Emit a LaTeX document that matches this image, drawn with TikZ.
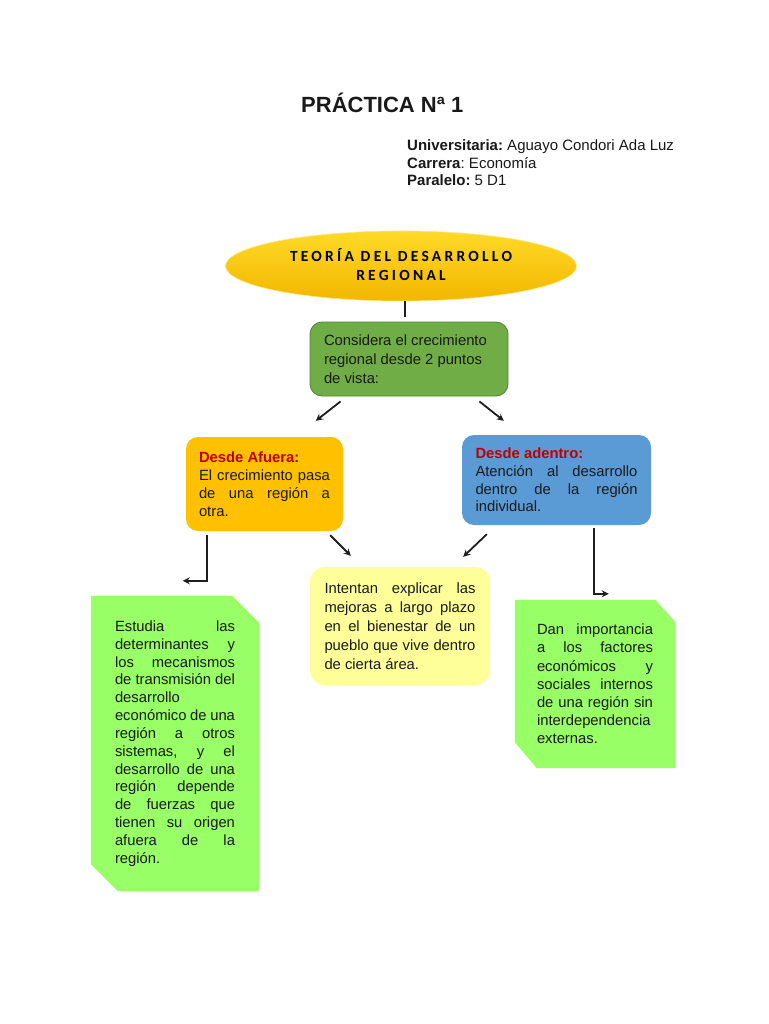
\documentclass[tikz,border=0pt]{standalone}
\usepackage{fontspec}
\setmainfont{Liberation Sans}
\newfontfamily\ellfont[LetterSpace=21]{Carlito}
\usetikzlibrary{calc,arrows.meta,shapes.geometric}
\definecolor{txtc}{RGB}{25,25,25}
\definecolor{redc}{RGB}{192,0,0}
\definecolor{orangec}{RGB}{255,192,0}
\definecolor{bluec}{RGB}{91,155,213}
\definecolor{yellowc}{RGB}{255,255,153}
\definecolor{greenc}{RGB}{112,173,71}
\definecolor{greenb}{RGB}{84,130,53}
\definecolor{greenl}{RGB}{153,255,102}
\definecolor{goldt}{RGB}{255,218,40}
\definecolor{goldb}{RGB}{242,182,0}
\definecolor{linec}{RGB}{30,30,30}
\def\bw{100pt}
\newcommand\jl[1]{\makebox[\bw][s]{\spaceskip=0pt\xspaceskip=0pt #1}}
\pgfdeclarelayer{background}
\pgfsetlayers{background,main}
\tikzset{
  body/.style={font=\fontsize{14.8}{#1}\selectfont, text=txtc, align=flush left, inner ysep=0pt},
  jw/.code={\def\bw{#1}},
  rbox/.style={rounded corners=12pt},
  arr/.style={draw=linec, line width=1.8pt, -{Stealth[length=7pt,width=7pt]}},
  plain/.style={draw=linec, line width=1.8pt},
  hdr/.style={anchor=base west, inner sep=0pt, font=\fontsize{15}{18}\selectfont, text=txtc},
}
\begin{document}
\frenchspacing
\begin{tikzpicture}[x=1pt,y=-1pt]
\useasboundingbox (0,0) rectangle (768,1024);
\begin{pgfonlayer}{background}
\fill[white] (0,0) rectangle (768,1024);
\end{pgfonlayer}

% title and header
\node[anchor=base west, inner sep=0pt, font=\bfseries\fontsize{22}{26}\selectfont, text=txtc] (title) at (301,113) {PRÁCTICA Nª 1};
\node[hdr] (univ) at (407,151) {\textbf{Universitaria:} Aguayo Condori Ada Luz};
\node[hdr] (carr) at (407,168.5) {\textbf{Carrera}: Economía};
\node[hdr] (para) at (407,186) {\textbf{Paralelo:} 5 D1};

% ellipse
\node[ellipse, minimum width=351pt, minimum height=70pt, inner sep=0pt, top color=goldt, bottom color=goldb, draw=goldt!60!white, line width=0.6pt, align=center, font=\ellfont\bfseries\fontsize{15.5}{19}\selectfont, text=black] (ell) at (401,266) {\raisebox{3pt}{TEORÍA DEL DESARROLLO}\\\raisebox{3pt}{REGIONAL}};

% green box
\node[rbox, body=19, fill=greenc, draw=greenb, line width=0.8pt, text width=170pt, inner xsep=14pt, minimum height=74pt] (gbox) at (409,359)
  {Considera el crecimiento\\regional desde 2 puntos\\de vista:};

% orange box
\node[rbox, body=18, jw=131pt, fill=orangec, text width=131pt, inner xsep=13pt, minimum height=94pt] (obox) at (264.5,484)
  {{\color{redc}\bfseries Desde Afuera:}\\
   \jl{El crecimiento pasa}\\
   \jl{de una región a}\\
   otra.};

% blue box
\node[rbox, body=17.7, jw=162pt, fill=bluec, text width=162pt, inner xsep=13.5pt, minimum height=90pt] (bbox) at (556.5,480)
  {{\color{redc}\bfseries Desde adentro:}\\
   \jl{Atención al desarrollo}\\
   \jl{dentro de la región}\\
   individual.};

% yellow box
\node[rounded corners=15pt, body=19, jw=151pt, fill=yellowc, text width=151pt, inner xsep=14.5pt, minimum height=118pt] (ybox) at (400,626)
  {\jl{Intentan explicar las}\\
   \jl{mejoras a largo plazo}\\
   \jl{en el bienestar de un}\\
   \jl{pueblo que vive dentro}\\
   de cierta área.};

% left green snipped box
\node[body=17.85, jw=120pt, text width=120pt, inner xsep=24pt, minimum height=295pt] (lg) at (175,743.5)
  {\jl{Estudia las}\\
   \jl{determinantes y}\\
   \jl{los mecanismos}\\
   \jl{de transmisión del}\\
   desarrollo\\
   \jl{económico de una}\\
   \jl{región a otros}\\
   \jl{sistemas, y el}\\
   \jl{desarrollo de una}\\
   \jl{región depende}\\
   \jl{de fuerzas que}\\
   \jl{tienen su origen}\\
   \jl{afuera de la}\\
   región.};

% right green snipped box
\node[body=18.2, jw=116pt, text width=116pt, inner xsep=22pt, minimum height=168pt] (rg) at (595,684)
  {\jl{Dan importancia}\\
   \jl{a los factores}\\
   \jl{económicos y}\\
   \jl{sociales internos}\\
   \jl{de una región sin}\\
   interdependencia\\
   externas.};

\begin{pgfonlayer}{background}
\fill[greenl] (lg.north west) -- ($(lg.north east)+(-27,0)$) -- ($(lg.north east)+(0,27)$)
  -- (lg.south east) -- ($(lg.south west)+(27,0)$) -- ($(lg.south west)+(0,-27)$) -- cycle;
\fill[greenl] (rg.north west) -- ($(rg.north east)+(-20,0)$) -- ($(rg.north east)+(0,22)$)
  -- (rg.south east) -- ($(rg.south west)+(22,0)$) -- ($(rg.south west)+(0,-26)$) -- cycle;
\end{pgfonlayer}

% connectors
\draw[plain] ($(ell.south)+(4,0)$) -- ($(gbox.north)+(-4,-5)$);
\draw[arr] ($(gbox.south west)+(31,5)$) -- ($(obox.north west)+(130,-16)$);
\draw[arr] ($(gbox.south east)+(-29,5)$) -- ($(bbox.north west)+(42,-14)$);
\draw[arr] ($(obox.south east)+(-13,4)$) -- ($(ybox.north west)+(41,-11)$);
\draw[arr] ($(bbox.south west)+(25,9)$) -- ($(ybox.north east)+(-27,-10)$);
\draw[arr] ($(obox.south west)+(21,4)$) |- ($(lg.north west)+(92,-15)$);
\draw[arr] ($(bbox.south east)+(-57,3)$) |- ($(rg.north west)+(94,-6)$);
\end{tikzpicture}
\end{document}
